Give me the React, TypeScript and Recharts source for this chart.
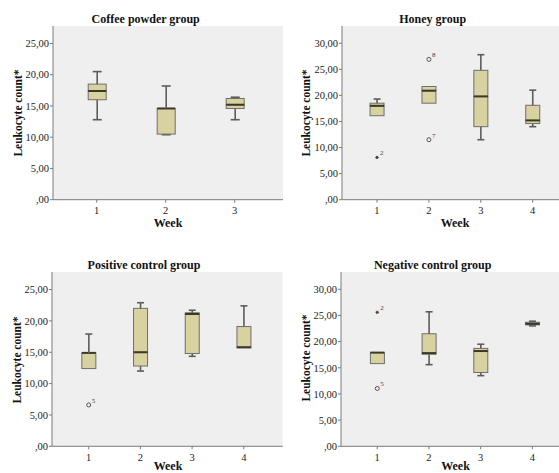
import { ComposedChart, Bar, Line, XAxis, YAxis, CartesianGrid } from 'recharts';

// week categories
const weeks3 = ['1', '2', '3'];
const weeks4 = ['1', '2', '3', '4'];

// Coffee powder group (weeks 1-3)
const coffeeMin = [12.8, 10.4, 12.8];
const coffeeQ1 = [16.0, 10.5, 14.6];
const coffeeMed = [17.4, 14.6, 15.2];
const coffeeQ3 = [18.5, 14.6, 16.2];
const coffeeMax = [20.5, 18.2, 16.4];

// Honey group
const honeyMin = [16.1, 18.5, 11.5, 14.0];
const honeyQ1 = [16.1, 18.5, 14.0, 14.6];
const honeyMed = [18.0, 20.9, 19.8, 15.2];
const honeyQ3 = [18.5, 21.7, 24.8, 18.1];
const honeyMax = [19.3, 21.7, 27.8, 21.0];

// Positive control group
const posMin = [12.4, 12.0, 14.35, 15.7];
const posQ1 = [12.4, 12.8, 14.8, 15.7];
const posMed = [14.9, 15.0, 21.1, 15.8];
const posQ3 = [14.9, 22.0, 21.3, 19.1];
const posMax = [17.9, 22.9, 21.7, 22.4];

// Negative control group
const negMin = [15.8, 15.6, 13.5, 23.0];
const negQ1 = [15.8, 17.6, 14.1, 23.2];
const negMed = [17.9, 17.8, 18.2, 23.4];
const negQ3 = [17.9, 21.5, 18.7, 23.7];
const negMax = [17.9, 25.7, 19.5, 23.9];

type Outlier = { week: string; value: number; label: string; kind: 'circle' | 'star' };

const coffeeOutliers: Outlier[] = [];
const honeyOutliers: Outlier[] = [
  { week: '1', value: 8.1, label: '2', kind: 'star' },
  { week: '2', value: 26.9, label: '8', kind: 'circle' },
  { week: '2', value: 11.5, label: '7', kind: 'circle' },
];
const posOutliers: Outlier[] = [{ week: '1', value: 6.6, label: '5', kind: 'circle' }];
const negOutliers: Outlier[] = [
  { week: '1', value: 25.6, label: '2', kind: 'star' },
  { week: '1', value: 11.05, label: '5', kind: 'circle' },
];

const ticks25 = [0, 5, 10, 15, 20, 25];
const ticks30 = [0, 5, 10, 15, 20, 25, 30];

const FONT = '"Liberation Serif", "Times New Roman", serif';
const BOX_FILL = '#d8d1a0';
const BOX_STROKE = '#6e6e6e';
const WHISKER = '#5c5c5c';
const MEDIAN = '#3b3826';
const AXIS = '#7a7a7a';

function buildRows(
  weeks: string[], min: number[], q1: number[], med: number[], q3: number[], max: number[], outliers: Outlier[]
) {
  return weeks.map((w, i) => {
    const outs = outliers.filter((o) => o.week === w);
    return {
      week: w,
      base: min[i],
      lowW: Math.max(0, q1[i] - min[i]),
      lowB: Math.max(0, med[i] - q1[i]),
      highB: Math.max(0, q3[i] - med[i]),
      highW: Math.max(0, max[i] - q3[i]),
      outA: outs[0] ? outs[0].value : null,
      outAKind: outs[0] ? outs[0].kind : null,
      outALabel: outs[0] ? outs[0].label : null,
      outB: outs[1] ? outs[1].value : null,
      outBKind: outs[1] ? outs[1].kind : null,
      outBLabel: outs[1] ? outs[1].label : null,
    };
  });
}

function LowWhisker(props: any) {
  const { x, y, width, height } = props;
  if (!height || height < 0.3) return <g />;
  const cx = x + width / 2;
  const b = y + height;
  return (
    <g>
      <line x1={cx} x2={cx} y1={y} y2={b} stroke={WHISKER} strokeWidth={1.6} />
      <line x1={cx - width / 4} x2={cx + width / 4} y1={b} y2={b} stroke={WHISKER} strokeWidth={1.6} />
    </g>
  );
}

function HighWhisker(props: any) {
  const { x, y, width, height } = props;
  if (!height || height < 0.3) return <g />;
  const cx = x + width / 2;
  return (
    <g>
      <line x1={cx} x2={cx} y1={y} y2={y + height} stroke={WHISKER} strokeWidth={1.6} />
      <line x1={cx - width / 4} x2={cx + width / 4} y1={y} y2={y} stroke={WHISKER} strokeWidth={1.6} />
    </g>
  );
}

function LowBox(props: any) {
  const { x, y, width, height } = props;
  return <rect x={x} y={y} width={width} height={Math.max(0, height || 0)} fill={BOX_FILL} stroke={BOX_STROKE} strokeWidth={1} />;
}

function HighBox(props: any) {
  const { x, y, width, height } = props;
  const h = Math.max(0, height || 0);
  return (
    <g>
      <rect x={x} y={y} width={width} height={h} fill={BOX_FILL} stroke={BOX_STROKE} strokeWidth={1} />
      <line x1={x} x2={x + width} y1={y + h} y2={y + h} stroke={MEDIAN} strokeWidth={2} />
    </g>
  );
}

function makeOutlierDot(key: 'A' | 'B') {
  return (props: any) => {
    const { cx, cy, payload, index } = props;
    const v = payload ? payload['out' + key] : null;
    if (v == null || cy == null || Number.isNaN(cy)) return <g key={`o${key}${index}`} />;
    const kind = payload['out' + key + 'Kind'];
    const label = payload['out' + key + 'Label'];
    const r = 1.8;
    return (
      <g key={`o${key}${index}`}>
        {kind === 'circle' ? (
          <circle cx={cx} cy={cy} r={2} fill="none" stroke="#444" strokeWidth={0.9} />
        ) : (
          <g stroke="#333" strokeWidth={0.9}>
            <line x1={cx - r} x2={cx + r} y1={cy} y2={cy} />
            <line x1={cx - r / 2} x2={cx + r / 2} y1={cy - r * 0.87} y2={cy + r * 0.87} />
            <line x1={cx + r / 2} x2={cx - r / 2} y1={cy - r * 0.87} y2={cy + r * 0.87} />
          </g>
        )}
        <text x={cx + 3} y={cy - 2} fontSize={7} fontFamily={FONT} fill="#444">
          {label}
        </text>
      </g>
    );
  };
}

const fmt = (v: number) => (v === 0 ? ',00' : `${v},00`);

type PanelProps = {
  title: string;
  rows: any[];
  plotLeft: number;
  plotTop: number;
  plotRight: number;
  plotBottom: number;
  yMax: number;
  ticks: number[];
  padLeft: number;
  padRight: number;
  barSize: number;
  titleX: number;
  titleY: number;
  yLabelX: number;
  yLabelY: number;
  weekX: number;
  weekY: number;
};

function Panel(p: PanelProps) {
  const width = p.plotRight - p.plotLeft + 55;
  const height = p.plotBottom - p.plotTop + 40;
  return (
    <>
      <div style={{ position: 'absolute', left: p.plotLeft - 45, top: p.plotTop - 10 }}>
        <ComposedChart
          width={width}
          height={height}
          data={p.rows}
          margin={{ top: 10, right: 10, left: 5, bottom: 0 }}
        >
          <CartesianGrid horizontal={false} vertical={false} fill="#efefef" fillOpacity={1} />
          <XAxis
            dataKey="week"
            height={30}
            padding={{ left: p.padLeft, right: p.padRight }}
            stroke={AXIS}
            tickSize={3}
            tickMargin={4}
            tick={{ fontFamily: FONT, fontSize: 10.5, fill: '#222' }}
          />
          <XAxis xAxisId="top" dataKey="week" orientation="top" height={0} tick={false} tickLine={false} stroke={AXIS} />
          <YAxis
            width={40}
            domain={[0, p.yMax]}
            ticks={p.ticks}
            tickFormatter={fmt}
            stroke={AXIS}
            tickSize={3}
            tickMargin={1}
            tick={{ fontFamily: FONT, fontSize: 10.5, fill: '#222' }}
          />
          <YAxis yAxisId="right" orientation="right" width={0} domain={[0, p.yMax]} tick={false} tickLine={false} stroke={AXIS} />
          <Bar dataKey="base" stackId="b" barSize={p.barSize} shape={() => <g />} isAnimationActive={false} />
          <Bar dataKey="lowW" stackId="b" barSize={p.barSize} shape={LowWhisker} isAnimationActive={false} />
          <Bar dataKey="lowB" stackId="b" barSize={p.barSize} shape={LowBox} isAnimationActive={false} />
          <Bar dataKey="highB" stackId="b" barSize={p.barSize} shape={HighBox} isAnimationActive={false} />
          <Bar dataKey="highW" stackId="b" barSize={p.barSize} shape={HighWhisker} isAnimationActive={false} />
          <Line dataKey="outA" stroke="none" dot={makeOutlierDot('A')} activeDot={false} isAnimationActive={false} />
          <Line dataKey="outB" stroke="none" dot={makeOutlierDot('B')} activeDot={false} isAnimationActive={false} />
        </ComposedChart>
      </div>
      <div
        style={{
          position: 'absolute', left: p.titleX, top: p.titleY, transform: 'translate(-50%, -50%)',
          fontFamily: FONT, fontWeight: 'bold', fontSize: 12, whiteSpace: 'nowrap', color: '#111',
        }}
      >
        {p.title}
      </div>
      <div
        style={{
          position: 'absolute', left: p.yLabelX, top: p.yLabelY, transform: 'translate(-50%, -50%) rotate(-90deg)',
          fontFamily: FONT, fontWeight: 'bold', fontSize: 11.5, whiteSpace: 'nowrap', color: '#111',
        }}
      >
        Leukocyte count*
      </div>
      <div
        style={{
          position: 'absolute', left: p.weekX, top: p.weekY, transform: 'translate(-50%, -50%)',
          fontFamily: FONT, fontWeight: 'bold', fontSize: 12, lineHeight: '13px', whiteSpace: 'nowrap', color: '#111',
        }}
      >
        Week
      </div>
    </>
  );
}

export default function App() {
  return (
    <div
      style={{ position: 'absolute', left: 0, top: 0, width: 559, height: 473, overflow: 'hidden', background: '#fff' }}
    >
      <Panel
        title="Coffee powder group"
        rows={buildRows(weeks3, coffeeMin, coffeeQ1, coffeeMed, coffeeQ3, coffeeMax, coffeeOutliers)}
        plotLeft={53} plotTop={26} plotRight={283} plotBottom={199.7}
        yMax={27.8} ticks={ticks25} padLeft={9.2} padRight={13.8} barSize={18}
        titleX={145.7} titleY={19} yLabelX={18} yLabelY={113} weekX={168} weekY={223}
      />
      <Panel
        title="Honey group"
        rows={buildRows(weeks4, honeyMin, honeyQ1, honeyMed, honeyQ3, honeyMax, honeyOutliers)}
        plotLeft={341.7} plotTop={26} plotRight={571.7} plotBottom={199.7}
        yMax={33.3} ticks={ticks30} padLeft={9.05} padRight={13.35} barSize={14}
        titleX={432.7} titleY={19} yLabelX={306} yLabelY={113} weekX={455} weekY={223}
      />
      <Panel
        title="Positive control group"
        rows={buildRows(weeks4, posMin, posQ1, posMed, posQ3, posMax, posOutliers)}
        plotLeft={52.3} plotTop={271.7} plotRight={283} plotBottom={446}
        yMax={27.8} ticks={ticks25} padLeft={10.85} padRight={13.05} barSize={14}
        titleX={144} titleY={265} yLabelX={17.3} yLabelY={360} weekX={168} weekY={465.5}
      />
      <Panel
        title="Negative control group"
        rows={buildRows(weeks4, negMin, negQ1, negMed, negQ3, negMax, negOutliers)}
        plotLeft={341} plotTop={271.7} plotRight={571} plotBottom={446}
        yMax={33.3} ticks={ticks30} padLeft={10.4} padRight={12.8} barSize={14}
        titleX={432.7} titleY={265} yLabelX={306} yLabelY={358} weekX={455.5} weekY={465.5}
      />
    </div>
  );
}
